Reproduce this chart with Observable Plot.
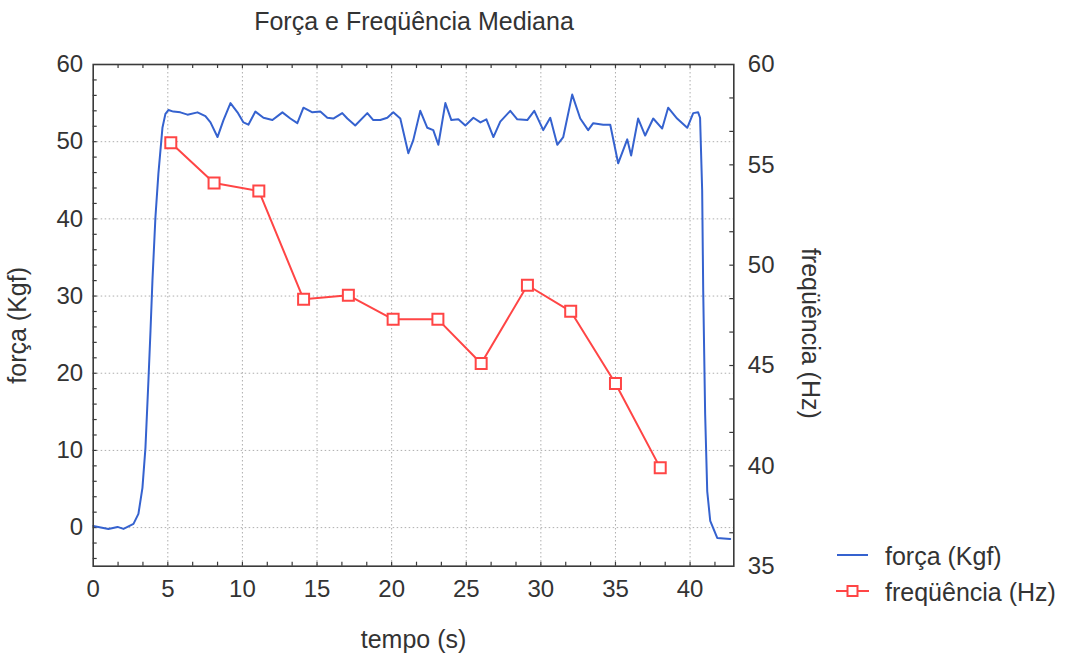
<!DOCTYPE html>
<html>
<head>
<meta charset="utf-8">
<script src="https://cdn.jsdelivr.net/npm/d3@7"></script>
<script src="https://cdn.jsdelivr.net/npm/@observablehq/plot@0.6"></script>
<style>
  html, body { margin: 0; padding: 0; background: #fff; }
  #wrap { position: relative; width: 1065px; height: 657px; font-family: "Liberation Sans", Arial, sans-serif; color: #333; }
  #title { position: absolute; left: 414px; top: 9px; transform: translateX(-50%); font-size: 25px; line-height: 25px; white-space: nowrap; }
  #chart { position: absolute; left: 0; top: 44px; }
  .leg { position: absolute; left: 885px; font-size: 25px; line-height: 30px; white-space: nowrap; }
  #legsym { position: absolute; left: 0; top: 0; }
</style>
</head>
<body>
<div id="wrap">
  <div id="title">Força e Freqüência Mediana</div>
  <div id="chart"></div>
  <svg id="legsym" width="1065" height="657"></svg>
  <div class="leg" style="top:541px">força (Kgf)</div>
  <div class="leg" style="top:577px">freqüência (Hz)</div>
</div>
<script>
// Força (Kgf) vs tempo (s)
const tForce = [0,1.02,1.63,2.03,2.70,3.03,3.30,3.50,3.70,3.84,
  3.97,4.17,4.37,4.64,4.84,5.04,5.37,5.84,6.32,6.99,
  7.52,7.86,8.33,8.73,9.20,9.67,10.07,10.40,10.87,11.41,
  12.01,12.68,13.21,13.68,14.09,14.69,15.22,15.69,16.09,16.69,
  17.03,17.56,18.37,18.77,19.24,19.71,20.11,20.58,21.12,21.45,
  21.92,22.39,22.79,23.13,23.60,24.00,24.47,24.94,25.48,25.95,
  26.35,26.82,27.28,27.95,28.42,29.09,29.56,30.16,30.63,31.10,
  31.50,32.10,32.64,33.17,33.51,34.18,34.65,35.18,35.79,36.05,
  36.52,36.99,37.53,38.13,38.53,39.13,39.81,40.21,40.54,40.67,
  40.81,40.88,41.01,41.15,41.35,41.82,42.69];
const fForce = [0.22,-0.17,0.09,-0.17,0.48,1.78,5.15,10.3,19.0,25.5,
  32.0,40.2,45.9,51.8,53.6,54.1,53.9,53.8,53.5,53.8,
  53.3,52.5,50.6,52.8,55.0,53.8,52.5,52.2,53.9,53.1,
  52.8,53.8,53.0,52.4,54.4,53.8,53.9,53.1,53.0,53.7,
  53.0,52.1,53.7,52.8,52.8,53.1,53.8,53.0,48.5,50.2,
  54.0,51.8,51.5,49.6,55.0,52.8,52.9,52.1,53.1,52.5,
  52.9,50.6,52.6,54.0,52.9,52.8,54.0,51.5,53.1,49.6,
  50.6,56.1,53.0,51.5,52.4,52.2,52.2,47.2,50.3,48.2,
  53.0,50.8,53.0,51.7,54.4,53.0,51.8,53.7,53.8,53.1,
  43.7,30.7,14.7,4.7,0.87,-1.34,-1.47];

// Freqüência mediana (Hz) vs tempo (s)
const tFreq = [5.2, 8.1, 11.1, 14.1, 17.1, 20.1, 23.1, 26.0, 29.1, 32.0, 35.0, 38.0];
const hzFreq = [56.1, 54.1, 53.7, 48.3, 48.5, 47.3, 47.3, 45.1, 49.0, 47.7, 44.1, 39.9];

// Ticks
const xTicks = [0, 5, 10, 15, 20, 25, 30, 35, 40];
const yTicks = [0, 10, 20, 30, 40, 50, 60];
const hzTicks = [35, 40, 45, 50, 55, 60];

const xDomain = [0, 42.93];
const yDomain = [-5, 60];
const hzDomain = [35, 60];

// map Hz onto the left (força) scale
const toLeft = hz => yDomain[0] + (hz - hzDomain[0]) * (yDomain[1] - yDomain[0]) / (hzDomain[1] - hzDomain[0]);
const fromLeft = v => hzDomain[0] + (v - yDomain[0]) * (hzDomain[1] - hzDomain[0]) / (yDomain[1] - yDomain[0]);

const forceData = tForce.map((t, i) => ({t, f: fForce[i]}));
const freqData = tFreq.map((t, i) => ({t, hz: hzFreq[i]}));

const W = 1065, H = 613, mL = 92.7, mR = 331.7, mT = 20, mB = 91.3;
const innerW = W - mL - mR, innerH = H - mT - mB;
const tk = 4;

const xMinor = d3.range(0, 26).map(k => k * 5 / 3).filter(v => v > 0 && v < xDomain[1]);
const yMinor = d3.range(-2, 31).map(k => k * 2).filter(v => v > yDomain[0] && v < yDomain[1]);
const hzMinor = d3.range(0, 16).map(k => hzDomain[0] + k * 5 / 3).filter(v => v > hzDomain[0] && v < hzDomain[1]).map(toLeft);

const blue = "#3562cf";
const red = "#ff4545";
const axisColor = "#3a3a3a";
const gridColor = "#9a9a9a";

const plot = Plot.plot({
  width: W, height: H,
  marginLeft: mL, marginRight: mR, marginTop: mT, marginBottom: mB,
  x: {domain: xDomain},
  y: {domain: yDomain},
  style: {fontFamily: "'Liberation Sans', Arial, sans-serif", fontSize: "24px", color: "#333", background: "transparent"},
  marks: [
    Plot.gridY(yTicks.filter(v => v > yDomain[0] && v < yDomain[1]), {stroke: gridColor, strokeOpacity: 0.8, strokeDasharray: "1.5,2.5"}),
    Plot.gridX(xTicks.filter(v => v > 0), {stroke: gridColor, strokeOpacity: 0.8, strokeDasharray: "1.5,2.5"}),
    // inward ticks
    Plot.ruleX(xMinor, {insetTop: innerH - tk, stroke: axisColor, strokeWidth: 1.2}),
    Plot.ruleX(xMinor, {insetBottom: innerH - tk, stroke: axisColor, strokeWidth: 1.2}),
    Plot.ruleY(yMinor, {insetRight: innerW - tk, stroke: axisColor, strokeWidth: 1.2}),
    Plot.ruleY(hzMinor, {insetLeft: innerW - tk, stroke: axisColor, strokeWidth: 1.2}),
    // data
    Plot.line(forceData, {x: "t", y: "f", stroke: blue, strokeWidth: 2}),
    Plot.line(freqData, {x: "t", y: d => toLeft(d.hz), stroke: red, strokeWidth: 2}),
    Plot.dot(freqData, {x: "t", y: d => toLeft(d.hz), symbol: "square", r: 6.2, fill: "white", stroke: red, strokeWidth: 2}),
    Plot.frame({stroke: axisColor, strokeWidth: 1.6}),
    // axes labels
    Plot.axisX(xTicks, {anchor: "bottom", tickSize: 0, tickPadding: 14, label: null, fill: "#333"}),
    Plot.axisY(yTicks, {anchor: "left", tickSize: 0, tickPadding: 10, label: null, fill: "#333"}),
    Plot.axisY(hzTicks.map(toLeft), {anchor: "right", tickSize: 0, tickPadding: 14, label: null, fill: "#333",
      tickFormat: v => String(Math.round(fromLeft(v)))}),
    // axis titles
    Plot.text(["tempo (s)"], {frameAnchor: "bottom", textAnchor: "middle", dy: 82, fontSize: 25, fill: "#333"}),
    Plot.text(["força (Kgf)"], {frameAnchor: "left", textAnchor: "middle", dx: -75, dy: 10, rotate: -90, fontSize: 25, fill: "#333"}),
    Plot.text(["freqüência (Hz)"], {frameAnchor: "right", textAnchor: "middle", dx: 76, dy: 18, rotate: 90, fontSize: 25, fill: "#333"})
  ]
});
document.getElementById("chart").appendChild(plot);

// legend symbols
const leg = d3.select("#legsym");
leg.append("line").attr("x1", 837).attr("x2", 868).attr("y1", 555).attr("y2", 555)
  .attr("stroke", blue).attr("stroke-width", 2);
leg.append("line").attr("x1", 836).attr("x2", 869).attr("y1", 591).attr("y2", 591)
  .attr("stroke", red).attr("stroke-width", 2);
leg.append("rect").attr("x", 847.5).attr("y", 586).attr("width", 10).attr("height", 10)
  .attr("fill", "white").attr("stroke", red).attr("stroke-width", 2);
</script>
</body>
</html>
